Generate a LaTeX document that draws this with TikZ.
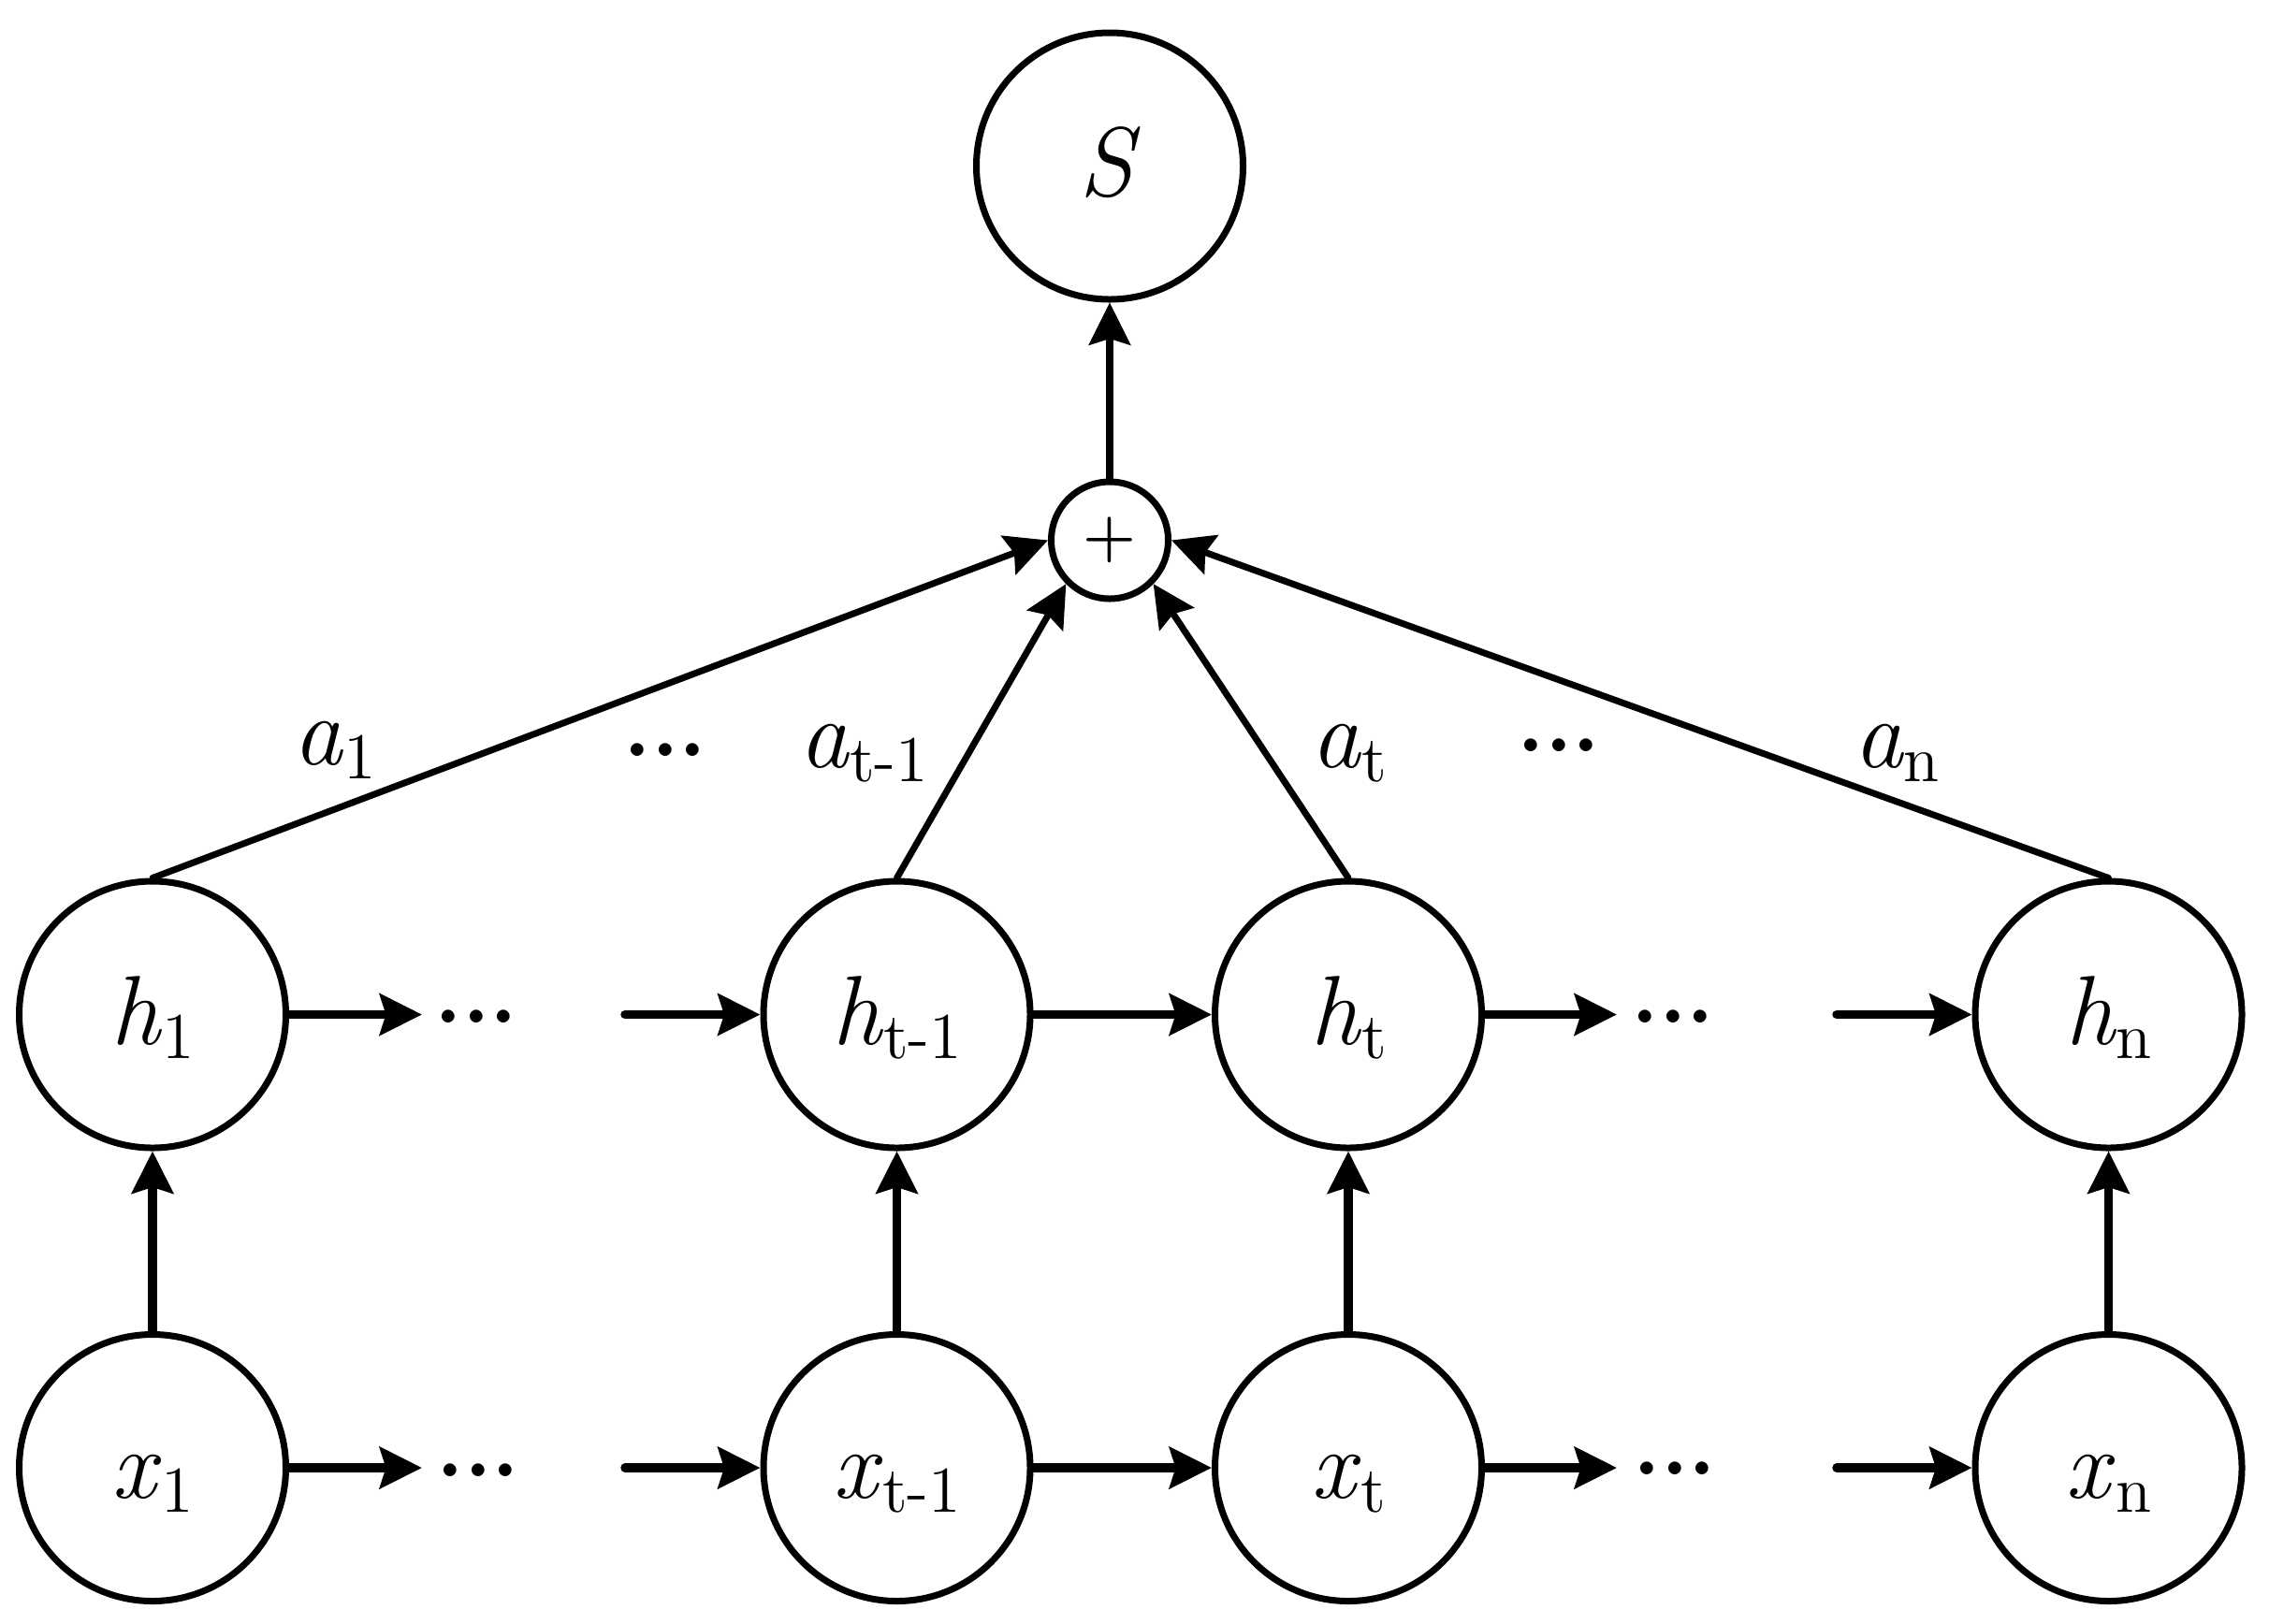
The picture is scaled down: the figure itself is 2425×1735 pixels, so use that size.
\documentclass[tikz,border=0pt]{standalone}
\usepackage{fontspec}
\usetikzlibrary{arrows.meta}
\newcommand\mysub[2]{\textit{#1}\raisebox{-3pt}{\fontsize{14}{15}\selectfont #2}}
\begin{document}
\begin{tikzpicture}[x=0.2pt,y=-0.2pt,
  nodecirc/.style={circle, draw, line width=1.4pt, minimum size=57pt, inner sep=0pt,
    font=\fontsize{21}{24}\selectfont, text height=14pt, text depth=1.2pt},
  pluscirc/.style={circle, draw, line width=1.4pt, minimum size=25pt, inner sep=0pt,
    font=\fontsize{13}{14}\selectfont\bfseries},
  tip/.style={-{Stealth[length=9pt,width=8.8pt,inset=1.3pt]}},
  flow/.style={tip, line width=1.9pt, line cap=round},
  upflow/.style={tip, line width=1.6pt, line cap=round},
  diag/.style={tip, line width=1.4pt, line cap=round},
  dotlab/.style={inner sep=0pt, font=\fontsize{19}{20}\selectfont\bfseries},
  wlab/.style={anchor=base, inner sep=0pt, font=\fontsize{21}{24}\selectfont}]
\useasboundingbox (0,0) rectangle (2425,1735);

% top
\node[nodecirc] (S) at (1186,177.5) {\textit{S}};
\node[pluscirc] (plus) at (1186,577.5) {+};

% hidden row
\node[nodecirc] (h1) at (163,1084.5) {\mysub{h}{1}};
\node[nodecirc] (h2) at (958.5,1084.5) {\mysub{h}{t-1}};
\node[nodecirc] (h3) at (1441,1084.5) {\mysub{h}{t}};
\node[nodecirc] (h4) at (2253.5,1084.5) {\mysub{h}{n}};

% input row
\node[nodecirc] (x1) at (163,1569) {\mysub{x}{1}};
\node[nodecirc] (x2) at (958.5,1569) {\mysub{x}{t-1}};
\node[nodecirc] (x3) at (1441,1569) {\mysub{x}{t}};
\node[nodecirc] (x4) at (2253.5,1569) {\mysub{x}{n}};

% dots
\node[dotlab] (hd1) at (509,1087) {...};
\node[dotlab] (hd2) at (1788,1087) {...};
\node[dotlab] (xd1) at (511,1572) {...};
\node[dotlab] (xd2) at (1790,1570) {...};
\node[dotlab] (ad1) at (711,802) {...};
\node[dotlab] (ad2) at (1666,797) {...};

% weight labels
\node[wlab] (a1) at (358,817) {\mysub{a}{1}};
\node[wlab] (a2) at (923,820) {\mysub{a}{t-1}};
\node[wlab] (a3) at (1442,820) {\mysub{a}{t}};
\node[wlab] (a4) at (2027,820) {\mysub{a}{n}};

% free ends of the chain arrows
\coordinate (h1e) at (451,1084.5);
\coordinate (h2s) at (668,1084.5);
\coordinate (h3e) at (1728,1084.5);
\coordinate (h4s) at (1963,1084.5);
\coordinate (x1e) at (451,1569);
\coordinate (x2s) at (668,1569);
\coordinate (x3e) at (1728,1569);
\coordinate (x4s) at (1963,1569);

% chain arrows
\draw[flow] (h1) -- (h1e);
\draw[flow] (h2s) -- (h2);
\draw[flow] (h2) -- (h3);
\draw[flow] (h3) -- (h3e);
\draw[flow] (h4s) -- (h4);
\draw[flow] (x1) -- (x1e);
\draw[flow] (x2s) -- (x2);
\draw[flow] (x2) -- (x3);
\draw[flow] (x3) -- (x3e);
\draw[flow] (x4s) -- (x4);

% inputs to hidden
\draw[flow] (x1) -- (h1);
\draw[flow] (x2) -- (h2);
\draw[flow] (x3) -- (h3);
\draw[flow] (x4) -- (h4);

% attention lines
\draw[diag] (h1.north) -- (plus.west);
\draw[diag] (h2.north) -- (plus.south west);
\draw[diag] (h3.north) -- (plus.south east);
\draw[diag] (h4.north) -- (plus.east);

% sum to S
\draw[upflow] (plus) -- (S);
\end{tikzpicture}
\end{document}
